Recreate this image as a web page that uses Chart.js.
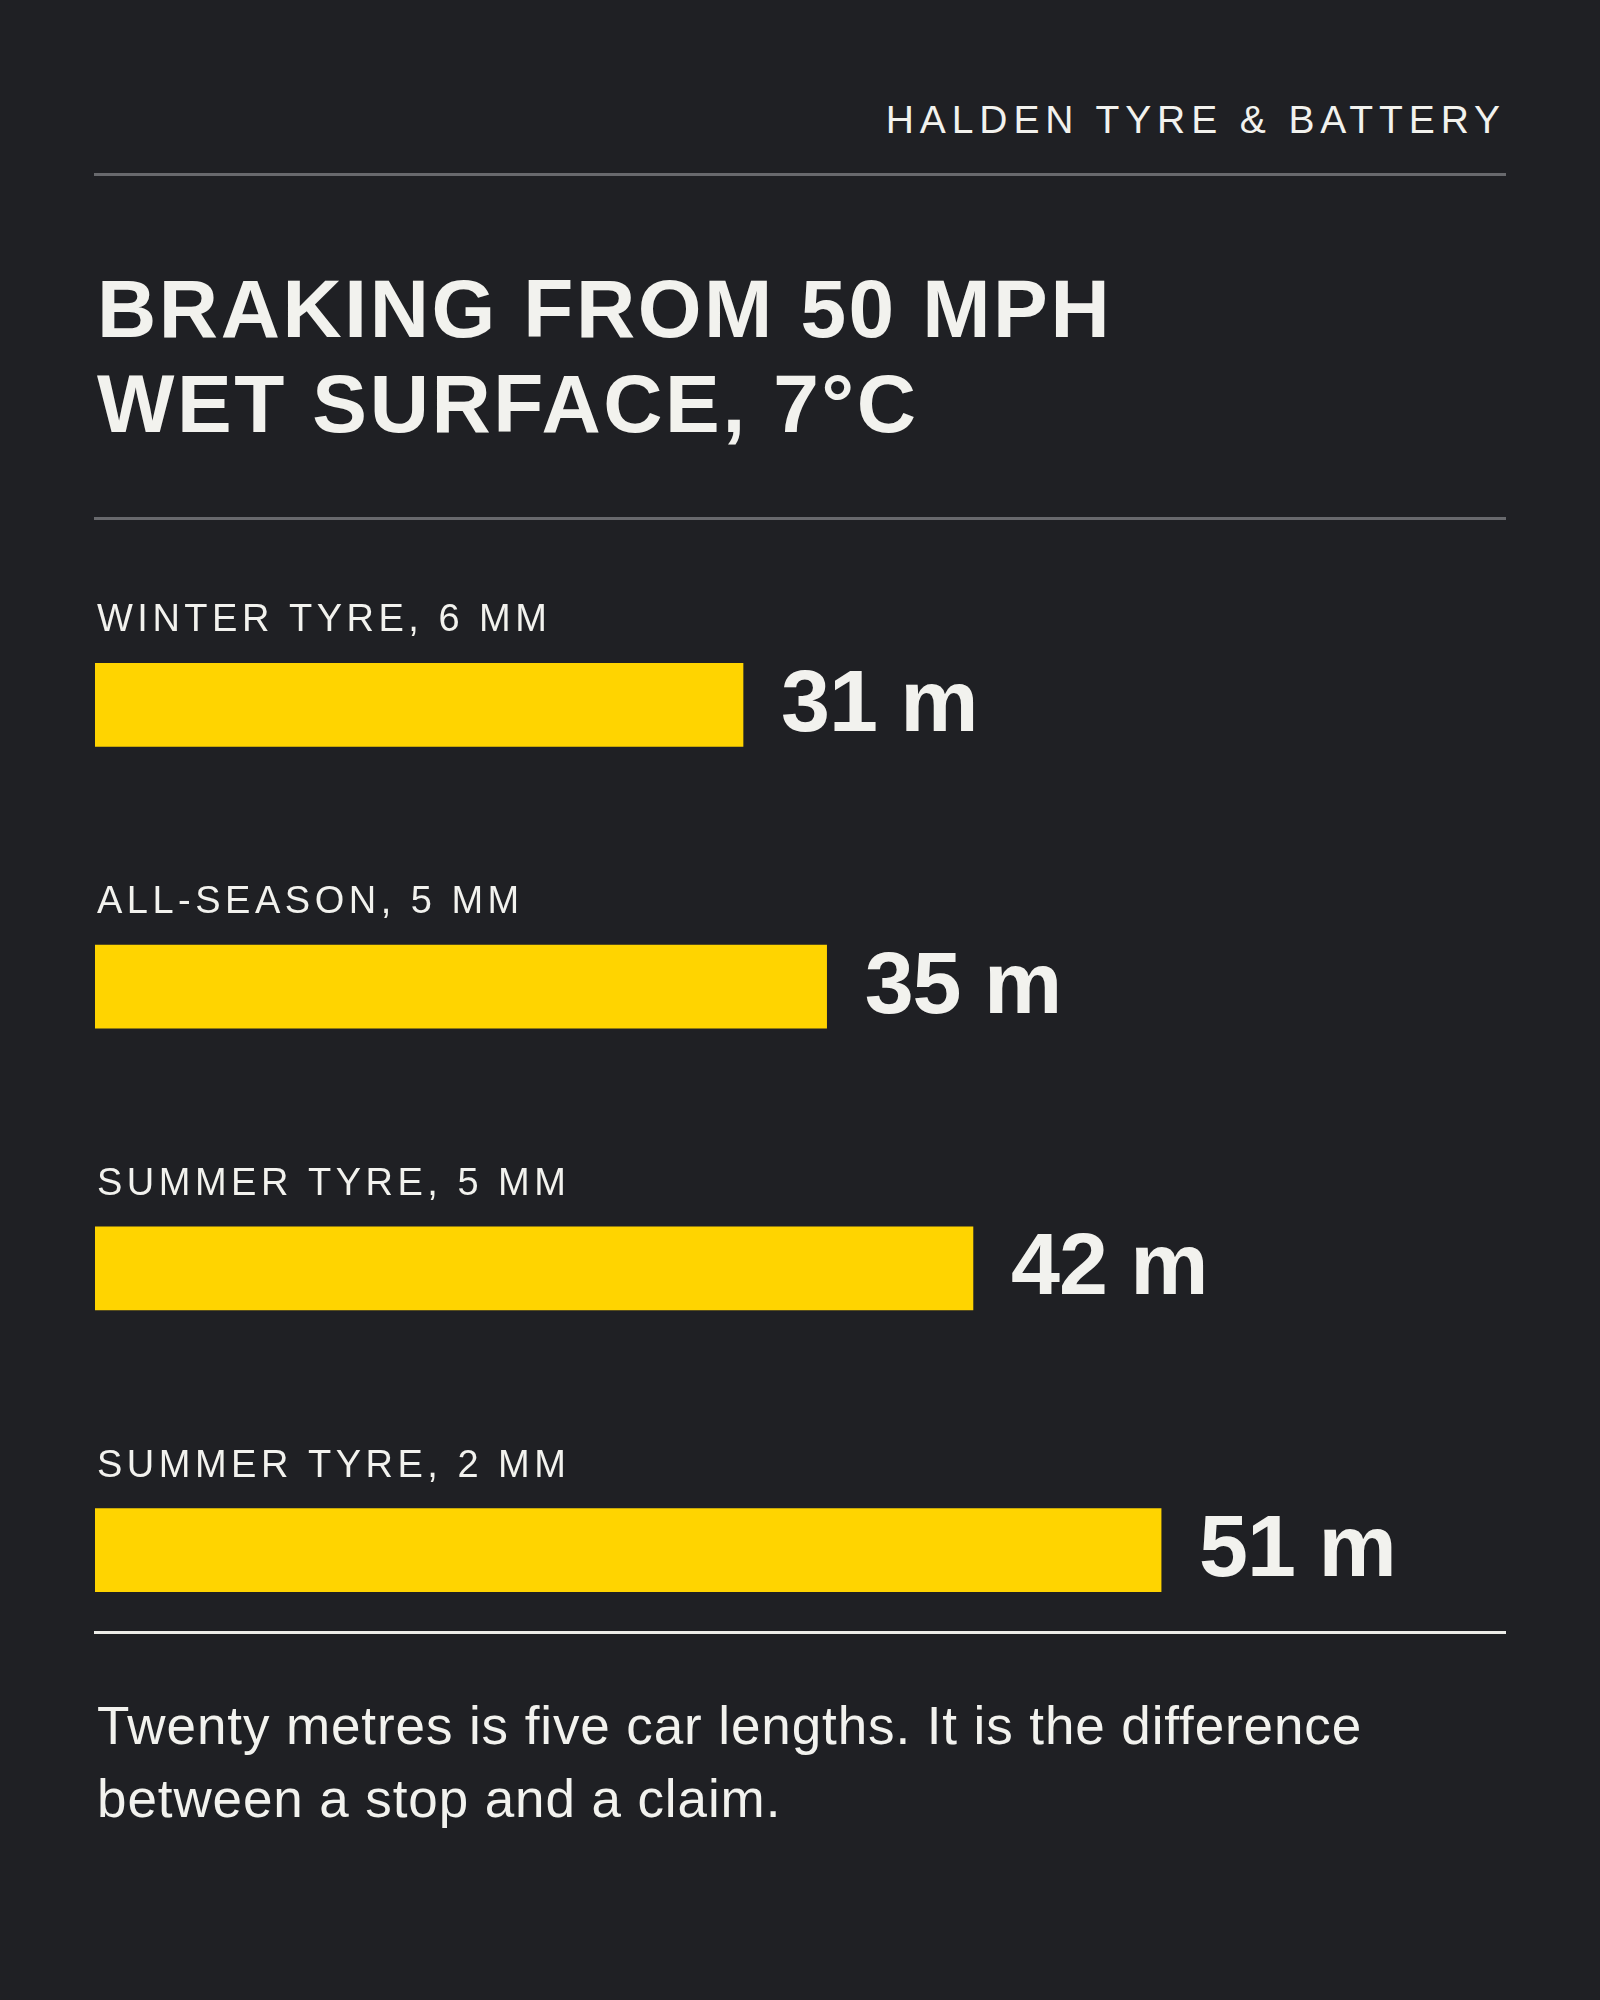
<!DOCTYPE html>
<html>
<head>
<meta charset="utf-8">
<script src="https://cdn.jsdelivr.net/npm/chart.js@4.4.1/dist/chart.umd.min.js"></script>
<style>
  html, body { margin: 0; padding: 0; }
  body {
    width: 1600px; height: 2000px; background: #1f2024; position: relative; overflow: hidden;
    font-family: "Liberation Sans", Arial, sans-serif; color: #f2f2ee;
  }
  .abs { position: absolute; white-space: nowrap; }
  #brand { top: 100px; right: 94px; font-size: 39px; line-height: 39px; letter-spacing: 5.9px; }
  #title { left: 97px; top: 261px; font-size: 82px; line-height: 95px; font-weight: bold; letter-spacing: 2.6px; }
  #note { left: 97px; top: 1689px; font-size: 53px; line-height: 73px; letter-spacing: 0.9px; }
  .rule { position: absolute; left: 94px; width: 1412px; height: 3px; }
  #chartBox { position: absolute; left: 0; top: 500px; width: 1600px; height: 1250px; }
</style>
</head>
<body>
<div class="abs" id="brand">HALDEN TYRE &amp; BATTERY</div>
<div class="rule" style="top:173px;background:#68696d"></div>
<div class="abs" id="title">BRAKING FROM 50 MPH<br>WET SURFACE, 7°C</div>
<div class="rule" style="top:517px;background:#68696d"></div>
<div id="chartBox"><canvas id="chart"></canvas></div>
<div class="rule" style="top:1631px;background:#ecece8"></div>
<div class="abs" id="note">Twenty metres is five car lengths. It is the difference<br>between a stop and a claim.</div>
<script>
// stopping distance on wet road, metres
const tyres = ['WINTER TYRE, 6 MM', 'ALL-SEASON, 5 MM', 'SUMMER TYRE, 5 MM', 'SUMMER TYRE, 2 MM'];
const distances = [31, 35, 42, 51];
const unit = 'm';

const barLabels = {
    id: 'barLabels',
    afterDatasetsDraw(chart) {
        const { ctx } = chart;
        const meta = chart.getDatasetMeta(0);
        ctx.save();
        ctx.fillStyle = '#f2f2ee';
        ctx.textBaseline = 'alphabetic';
        ctx.textAlign = 'left';
        meta.data.forEach((bar, i) => {
            const top = bar.y - bar.height / 2;
            ctx.font = '38px "Liberation Sans", Arial, sans-serif';
            ctx.letterSpacing = '4.5px';
            ctx.fillText(tyres[i], chart.chartArea.left + 2, top - 32);
            ctx.font = 'bold 88px "Liberation Sans", Arial, sans-serif';
            ctx.letterSpacing = '-1px';
            ctx.fillText(distances[i] + ' ' + unit, bar.x + 38, bar.y + 26);
        });
        ctx.restore();
    }
};

new Chart(document.getElementById('chart'), {
    type: 'bar',
    data: {
        labels: tyres,
        datasets: [{
            data: distances,
            backgroundColor: '#ffd400',
            borderWidth: 0,
            barThickness: 83
        }]
    },
    options: {
        indexAxis: 'y',
        responsive: true,
        maintainAspectRatio: false,
        animation: false,
        layout: { padding: { left: 95, right: 94, top: 64, bottom: 59 } },
        plugins: { legend: { display: false }, tooltip: { enabled: false } },
        scales: {
            x: { display: false, min: 0, max: 67.5 },
            y: { display: false }
        }
    },
    plugins: [barLabels]
});
</script>
</body>
</html>
